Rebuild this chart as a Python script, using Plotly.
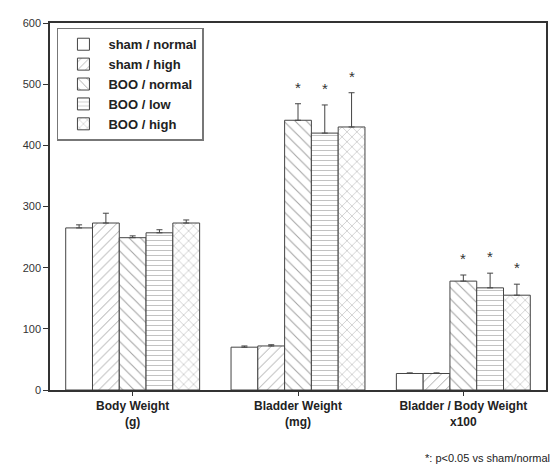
import plotly.graph_objects as go

categories = ["Body Weight<br>(g)", "Bladder Weight<br>(mg)", "Bladder / Body Weight<br>x100"]
series_names = ["sham / normal", "sham / high", "BOO / normal", "BOO / low", "BOO / high"]
values = [
    [265, 70, 27],
    [273, 72, 27],
    [249, 441, 178],
    [257, 420, 167],
    [273, 430, 155],
]
errors = [
    [5, 2, 1],
    [16, 2, 1],
    [3, 27, 10],
    [5, 46, 24],
    [5, 56, 18],
]
significant = [
    [False, False, False],
    [False, False, False],
    [False, True, True],
    [False, True, True],
    [False, True, True],
]
patterns = ["", "/", "\\", "-", "x"]
pattern_sizes = [8, 7, 8, 5, 7]
footnote = "*: p<0.05 vs sham/normal"
y_ticks = [0, 100, 200, 300, 400, 500, 600]

xpos = list(range(len(categories)))
group_width = 0.81
bar_w = group_width / len(series_names)

fig = go.Figure()
for i, name in enumerate(series_names):
    fig.add_trace(go.Bar(
        x=xpos, y=values[i], name="<b>" + name + "</b>",
        marker=dict(color="white", line=dict(color="#444", width=1),
                    pattern=dict(shape=patterns[i], fgcolor="#444", bgcolor="white",
                                 size=pattern_sizes[i], solidity=0.13)),
        error_y=dict(type="data", symmetric=False, array=errors[i],
                     arrayminus=[0] * len(xpos), color="#444", thickness=1, width=3),
    ))

for i in range(len(series_names)):
    for j in range(len(categories)):
        if significant[i][j]:
            fig.add_annotation(
                x=xpos[j] + (i - (len(series_names) - 1) / 2) * bar_w,
                y=values[i][j] + errors[i][j], xref="x", yref="y",
                text="*", showarrow=False, yanchor="bottom", yshift=6,
                font=dict(size=15, color="#333", family="Liberation Sans"))

fig.add_annotation(x=1, y=0, xref="paper", yref="paper", xanchor="right", yanchor="top",
                   yshift=-60, xshift=6, text=footnote, showarrow=False,
                   font=dict(size=11, color="#222", family="Liberation Sans"))

fig.update_layout(
    width=556, height=471,
    margin=dict(l=50, r=8, t=23, b=81),
    paper_bgcolor="white", plot_bgcolor="white",
    barmode="group", bargap=1 - group_width, bargroupgap=0,
    font=dict(family="Liberation Sans", color="#333"),
    showlegend=True,
    legend=dict(x=0.014, y=0.987, xanchor="left", yanchor="top",
                bordercolor="#777", borderwidth=1.5, bgcolor="white",
                font=dict(size=13, color="#222", family="Liberation Sans"),
                itemwidth=40, tracegroupgap=0),
    xaxis=dict(tickvals=xpos, ticktext=["<b>" + c.replace("<br>", "</b><br><b>") + "</b>" for c in categories],
               range=[-0.5, 2.5], showline=True, linecolor="#333", linewidth=1.5, mirror=True,
               ticks="outside", ticklen=4, tickcolor="#333", showgrid=False, zeroline=False,
               tickfont=dict(size=12, color="#222")),
    yaxis=dict(range=[0, 600], tickvals=y_ticks, showline=True, linecolor="#333", linewidth=1.5,
               mirror=True, ticks="outside", ticklen=5, tickcolor="#333", showgrid=False,
               zeroline=False, tickfont=dict(size=11, color="#333")),
)

fig.write_html("out.html", config={"displayModeBar": False},
               post_script="document.body.style.margin='0';")
